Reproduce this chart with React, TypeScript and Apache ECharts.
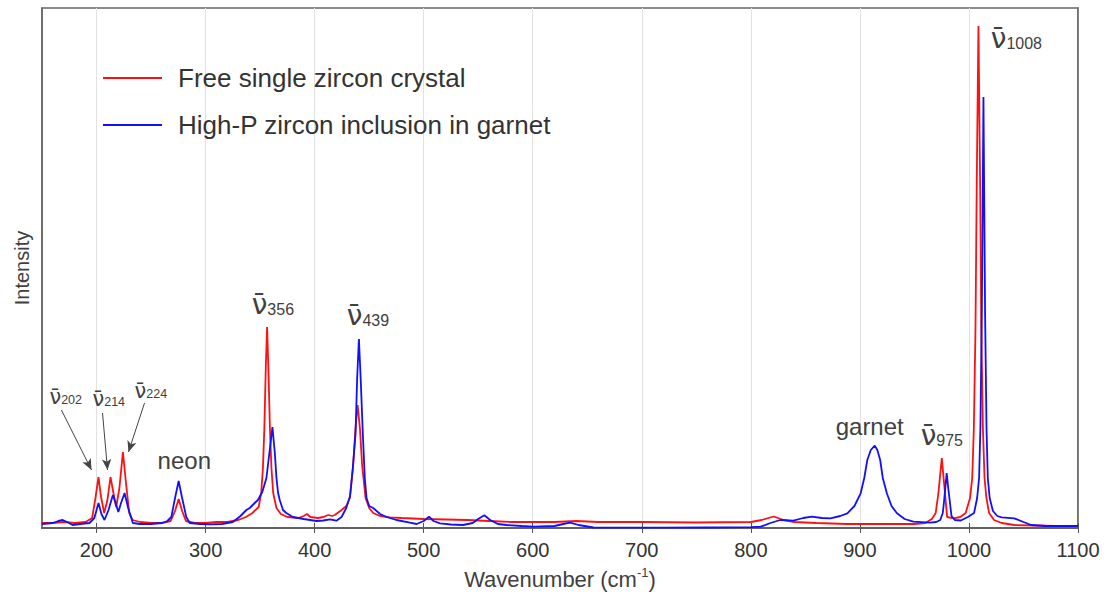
import React, { useEffect, useRef } from "react";
import * as echarts from "echarts";

// Raman spectra: [wavenumber (cm-1), intensity (a.u.)]
const freeZircon: [number, number][] = [
  [150, 5], [160, 5], [170, 6], [180, 5], [190, 6], [196, 10], [199, 30], [201.8, 51], [204, 32],
  [207, 15], [210, 28], [212.8, 51], [215.5, 35], [218, 21], [221, 40], [224.2, 76], [227, 45],
  [230, 15], [233, 8], [240, 6], [250, 5], [260, 5], [268, 7], [272, 17], [275.3, 29], [278.5, 17],
  [282, 7], [290, 5], [300, 5], [310, 6], [320, 6], [330, 8], [337, 11], [343, 15], [348.7, 21],
  [351, 35], [352.6, 60], [353.9, 100], [355.2, 160], [356.4, 201], [357.6, 160], [359, 100],
  [360.4, 60], [362, 35], [365, 20], [369, 14], [375, 11], [385, 10], [390, 12], [393, 14], [396, 11],
  [403, 10], [408, 11], [412.4, 13], [416, 12], [418.5, 13], [424.7, 18], [429, 22], [432.3, 30],
  [435.3, 62], [437.5, 100], [439.4, 123], [441.5, 100], [443.6, 62], [446.7, 30], [450, 20],
  [453.7, 15], [460, 12], [469, 10.7], [480, 10], [500, 9], [520, 8.5], [540, 8], [560, 7], [580, 6],
  [600, 6], [620, 6], [640, 7], [660, 6], [700, 6], [750, 5.5], [800, 6], [810, 8], [821, 11.5],
  [830, 8], [840, 6], [860, 5], [888, 4], [920, 4], [950, 4], [960, 5], [966, 9], [969.5, 15],
  [972, 35], [975.1, 70], [978, 35], [980, 11], [986, 9.7], [992, 11], [997, 15], [1001, 30],
  [1003, 50], [1004.5, 100], [1006, 200], [1007.2, 350], [1008.7, 502], [1010.2, 350], [1011.3, 200],
  [1012.8, 100], [1014.3, 50], [1016, 30], [1018.5, 15], [1023, 8], [1030, 5], [1041.5, 3],
  [1060, 2.5], [1080, 2], [1100, 2],
];

const inclusionZircon: [number, number][] = [
  [150, 4], [160, 5], [165, 7], [169, 8], [173, 6], [178, 3], [185, 4], [193.5, 5], [198, 10],
  [201.8, 25], [204.5, 14], [207.3, 8], [211, 18], [215, 33], [217.5, 25], [220, 16], [222.5, 25],
  [225.7, 35], [229, 20], [233.3, 5], [240, 4], [250, 4], [260, 5], [265, 7], [268.6, 11], [272, 30],
  [275.3, 47], [278.5, 30], [282.3, 11], [285.4, 5], [295, 4], [305, 3.7], [315, 4], [325, 6],
  [332, 12], [337.4, 18], [340.5, 20], [345, 25], [348, 28], [352, 36], [355.8, 50], [358.5, 75],
  [361.3, 101], [363.5, 75], [365, 50], [366.5, 35], [368, 28], [371, 18], [374, 15], [380, 11],
  [390, 9], [401.7, 7], [408, 7.5], [414, 8.7], [420, 7.3], [424.7, 11], [429, 20], [432.5, 32],
  [435, 60], [437.5, 94], [439, 150], [440.6, 189], [442.2, 150], [444.2, 94], [446, 50],
  [447.6, 30], [450, 22], [453.7, 20], [460, 14], [466, 11], [475, 8], [487.4, 5.3], [493.5, 4],
  [500, 7], [504.9, 11.3], [509, 7], [515, 4.7], [525, 3.5], [536, 3], [545, 5], [550, 9],
  [555.6, 12.7], [561, 8], [568, 4], [576, 3], [590, 2], [600.6, 1.3], [620, 2], [628, 4],
  [634.3, 5.3], [642, 3], [655.7, 0.5], [680, 0.3], [720, 0.3], [760, 0.5], [800, 0.8], [809, 1.3],
  [818, 5], [827, 8], [839, 7.3], [848, 10], [856, 11.3], [865, 10], [873, 9.7], [882, 12],
  [888.5, 14.7], [895, 22], [900.7, 34.7], [904, 50], [906.8, 68], [910, 78], [913.6, 82.3],
  [916, 78], [918.6, 68], [921, 50], [924.7, 34.7], [929, 22], [934, 14.7], [941, 9], [949, 6.3],
  [964, 5.3], [970, 6], [973.7, 8], [976, 15], [977.2, 27], [979.6, 55], [981, 40], [982.4, 27],
  [984, 12], [987, 8], [992.5, 7.5], [999, 11], [1004.7, 15], [1007.5, 30], [1009.3, 50],
  [1010.5, 100], [1011.8, 215], [1013.3, 431], [1014.8, 215], [1016.1, 100], [1017.3, 50],
  [1019, 30], [1022, 17], [1026, 12], [1030, 10.7], [1041.5, 9.7], [1050, 6], [1057, 3],
  [1070, 2], [1100, 2],
];

const seriesNames = ["Free single zircon crystal", "High-P zircon inclusion in garnet"];
const xTicks = [200, 300, 400, 500, 600, 700, 800, 900, 1000, 1100];

// Band labels: [kind, text, wavenumber anchor, intensity anchor, size]
const bandLabels: [string, string, number, number, "s" | "l"][] = [
  ["nu", "202", 156.8, 132, "s"],
  ["nu", "214", 196.3, 130, "s"],
  ["nu", "224", 234.9, 138, "s"],
  ["nu", "356", 342.3, 225, "l"],
  ["nu", "439", 429.5, 214, "l"],
  ["nu", "975", 955.7, 94, "l"],
  ["nu", "1008", 1020, 491, "l"],
  ["plain", "neon", 256, 68, "l"],
  ["plain", "garnet", 877.8, 102, "l"],
];

// Leader arrows: [fromX, fromY, toX, toY]
const arrows: [number, number, number, number][] = [
  [167.8, 118, 195.4, 58],
  [205.5, 115, 210.1, 58],
  [244.0, 125, 229.3, 76],
];

const TEXT = "#404040";
const FONT = "Liberation Sans, Arial, sans-serif";

export default function App() {
  const ref = useRef<HTMLDivElement>(null);

  useEffect(() => {
    if (!ref.current) return;
    const chart = echarts.init(ref.current, undefined, { renderer: "svg" });

    const markPoints = bandLabels.map(([kind, text, x, y, size]) => ({
      coord: [x, y],
      symbolSize: 0,
      label: {
        show: true,
        position: "right",
        distance: 0,
        formatter:
          kind === "nu"
            ? size === "l"
              ? `{nuL|\u03BD\u0304}{subL|${text}}`
              : `{nuS|\u03BD\u0304}{subS|${text}}`
            : `{plain|${text}}`,
        rich: {
          nuL: { fontSize: 28, color: TEXT, fontFamily: "DejaVu Sans", lineHeight: 30, verticalAlign: "bottom" },
          subL: { fontSize: 16, color: TEXT, fontFamily: FONT, lineHeight: 16, verticalAlign: "bottom", padding: [0, 0, 1, 0] },
          nuS: { fontSize: 21, color: TEXT, fontFamily: "DejaVu Sans", lineHeight: 23, verticalAlign: "bottom" },
          subS: { fontSize: 12.5, color: TEXT, fontFamily: FONT, lineHeight: 13, verticalAlign: "bottom", padding: [0, 0, 1, 0] },
          plain: { fontSize: 24, color: TEXT, fontFamily: FONT },
        },
      },
    }));

    const markLines = arrows.map(([x1, y1, x2, y2]) => [
      { coord: [x1, y1] },
      { coord: [x2, y2] },
    ]);

    chart.setOption({
      animation: false,
      grid: {
        left: 42,
        right: 30,
        top: 8,
        bottom: 73,
        show: true,
        borderColor: "#666",
        borderWidth: 1.5,
        backgroundColor: "#fff",
      },
      legend: {
        data: seriesNames,
        orient: "vertical",
        left: 98,
        top: 58,
        icon: "rect",
        itemWidth: 59,
        itemHeight: 2,
        itemGap: 17,
        textStyle: {
          fontSize: 26,
          color: "#333",
          fontFamily: FONT,
          lineHeight: 30,
          padding: [0, 0, 0, 11],
        },
      },
      xAxis: [
        {
          type: "value",
          min: 150,
          max: 1100,
          name: "{a|Wavenumber (cm}{sup|-1}{a|)}",
          nameLocation: "middle",
          nameGap: 38,
          nameTextStyle: {
            rich: {
              a: { fontSize: 22, color: TEXT, fontFamily: FONT, lineHeight: 26 },
              sup: { fontSize: 13, color: TEXT, fontFamily: FONT, verticalAlign: "top", lineHeight: 14 },
            },
          },
          axisLine: { show: true, lineStyle: { color: "#555", width: 2 } },
          axisTick: { show: true, inside: true, length: 5, customValues: xTicks, lineStyle: { color: "#555" } },
          axisLabel: {
            customValues: xTicks,
            formatter: (v: number) => String(v),
            fontSize: 20,
            color: "#333",
            fontFamily: FONT,
            margin: 12,
          },
          splitLine: { show: true, lineStyle: { color: "#e2e2e2", width: 1 } },
        },
        {
          type: "value",
          position: "top",
          min: 150,
          max: 1100,
          axisLine: { show: true, lineStyle: { color: "#666", width: 1.5 } },
          axisTick: { show: true, inside: true, length: 5, customValues: xTicks, lineStyle: { color: "#555" } },
          axisLabel: { show: false },
          splitLine: { show: false },
        },
      ],
      yAxis: [
        {
          type: "value",
          min: 0,
          max: 520,
          name: "Intensity",
          nameLocation: "middle",
          nameGap: 10,
          nameTextStyle: { fontSize: 20, color: TEXT, fontFamily: FONT },
          axisLine: { show: true, lineStyle: { color: "#666", width: 1.5 } },
          axisTick: { show: false },
          axisLabel: { show: false },
          splitLine: { show: false },
        },
        {
          type: "value",
          position: "right",
          min: 0,
          max: 520,
          axisLine: { show: true, lineStyle: { color: "#666", width: 1.5 } },
          axisTick: { show: false },
          axisLabel: { show: false },
          splitLine: { show: false },
        },
      ],
      series: [
        {
          name: seriesNames[0],
          type: "line",
          data: freeZircon,
          showSymbol: false,
          symbol: "none",
          lineStyle: { color: "#ff1010", width: 1.8 },
          itemStyle: { color: "#ff1010" },
          z: 2,
        },
        {
          name: seriesNames[1],
          type: "line",
          data: inclusionZircon,
          showSymbol: false,
          symbol: "none",
          lineStyle: { color: "#1010ff", width: 1.8 },
          itemStyle: { color: "#1010ff" },
          z: 3,
        },
        {
          name: "bands",
          type: "line",
          data: [],
          silent: true,
          markPoint: { silent: true, data: markPoints },
          markLine: {
            silent: true,
            symbol: ["none", "arrow"],
            symbolSize: [7, 11],
            label: { show: false },
            lineStyle: { color: "#444", width: 1, type: "solid" },
            data: markLines,
          },
          z: 4,
        },
      ],
    });

    return () => chart.dispose();
  }, []);

  return (
    <div
      ref={ref}
      style={{ position: "absolute", left: 0, top: 0, width: 1108, height: 601 }}
    />
  );
}
